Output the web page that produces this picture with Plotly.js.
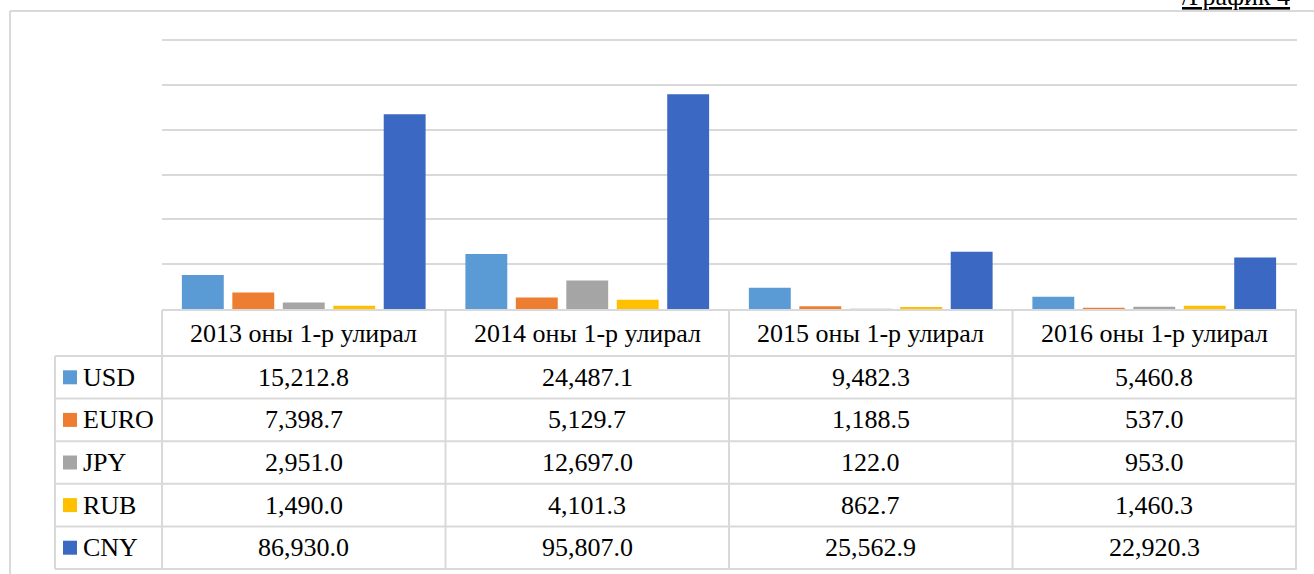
<!DOCTYPE html>
<html>
<head>
<meta charset="utf-8">
<script src="https://cdn.plot.ly/plotly-3.0.1.min.js"></script>
<style>html,body{margin:0;padding:0;background:#fff;}#chart{width:1314px;height:574px;}</style>
</head>
<body>
<div id="chart"></div>
<script>
const categories = ['2013 оны 1-р улирал', '2014 оны 1-р улирал', '2015 оны 1-р улирал', '2016 оны 1-р улирал'];
const seriesNames = ['USD', 'EURO', 'JPY', 'RUB', 'CNY'];
const usd  = [15212.8, 24487.1, 9482.3, 5460.8];
const euro = [7398.7, 5129.7, 1188.5, 537.0];
const jpy  = [2951.0, 12697.0, 122.0, 953.0];
const rub  = [1490.0, 4101.3, 862.7, 1460.3];
const cny  = [86930.0, 95807.0, 25562.9, 22920.3];
const seriesColors = ['#5b9bd5', '#ed7d31', '#a5a5a5', '#ffc000', '#3a68c2'];
const allSeries = [usd, euro, jpy, rub, cny];

const W = 1314, H = 574;
const px = v => v / W;
const py = v => 1 - v / H;
const fmt = v => v.toLocaleString('en-US', {minimumFractionDigits: 1, maximumFractionDigits: 1});
const FONT = 'Liberation Serif, Times New Roman, serif';
const GRID = '#d9d9d9';

const traces = allSeries.map((vals, i) => ({
  type: 'bar',
  name: seriesNames[i],
  x: categories,
  y: vals,
  marker: {color: seriesColors[i], line: {width: 0}},
  showlegend: false
}));

// table geometry (pixels)
const headerTop = 310, headerBottom = 356, tableBottom = 569;
const rowH = (tableBottom - headerBottom) / seriesNames.length;
const tableLeft = 55, firstColRight = 162, tableRight = 1297;

const shapes = [];
const annotations = [];
const line = {color: GRID, width: 2};

// outer frame
shapes.push({type: 'line', xref: 'paper', yref: 'paper', x0: px(10), x1: 1, y0: py(11), y1: py(11), line: line});
shapes.push({type: 'line', xref: 'paper', yref: 'paper', x0: px(10), x1: px(10), y0: py(11), y1: 0, line: line});

// table horizontal lines
shapes.push({type: 'line', xref: 'paper', yref: 'paper', x0: px(firstColRight), x1: px(tableRight), y0: py(headerTop), y1: py(headerTop), line: line});
for (let r = 0; r <= seriesNames.length; r++) {
  const yy = headerBottom + r * rowH;
  shapes.push({type: 'line', xref: 'paper', yref: 'paper', x0: px(tableLeft), x1: px(tableRight), y0: py(yy), y1: py(yy), line: line});
}
// table vertical lines
shapes.push({type: 'line', xref: 'paper', yref: 'paper', x0: px(tableLeft), x1: px(tableLeft), y0: py(headerBottom), y1: py(tableBottom), line: line});
shapes.push({type: 'line', xref: 'paper', yref: 'paper', x0: px(firstColRight), x1: px(firstColRight), y0: py(headerTop), y1: py(tableBottom), line: line});
categories.forEach((c, j) => {
  shapes.push({type: 'line', xref: 'x', yref: 'paper', x0: j + 0.5, x1: j + 0.5, y0: py(headerTop), y1: py(tableBottom), line: line});
});

// header texts
categories.forEach(c => {
  annotations.push({xref: 'x', yref: 'paper', x: c, y: py((headerTop + headerBottom) / 2), yanchor: 'middle', xanchor: 'center',
    showarrow: false, text: c, font: {family: FONT, size: 26, color: '#000'}});
});
// rows
seriesNames.forEach((n, i) => {
  const yc = headerBottom + (i + 0.5) * rowH;
  shapes.push({type: 'rect', xref: 'paper', yref: 'paper', x0: px(63), x1: px(77), y0: py(yc - 7), y1: py(yc + 7),
    fillcolor: seriesColors[i], line: {width: 0}});
  annotations.push({xref: 'paper', yref: 'paper', x: px(81), y: py(yc), xanchor: 'left', yanchor: 'middle',
    showarrow: false, text: n, font: {family: FONT, size: 26, color: '#000'}});
  categories.forEach((c, j) => {
    annotations.push({xref: 'x', yref: 'paper', x: c, y: py(yc), xanchor: 'center', yanchor: 'middle',
      showarrow: false, text: fmt(allSeries[i][j]), font: {family: FONT, size: 26, color: '#000'}});
  });
});

annotations.push({xref: 'paper', yref: 'paper', x: px(1180), y: py(13), xanchor: 'left', yanchor: 'bottom', showarrow: false,
  text: '<span style="text-decoration:underline">/График 4</span>',
  font: {family: FONT, size: 26, color: '#000'}});

const layout = {
  width: W, height: H,
  margin: {l: 0, r: 0, t: 0, b: 0},
  paper_bgcolor: '#fff',
  plot_bgcolor: '#fff',
  barmode: 'group',
  bargap: 0.11,
  bargroupgap: 0.17,
  showlegend: false,
  xaxis: {domain: [px(firstColRight), px(tableRight)], showticklabels: false, showgrid: false, zeroline: false, showline: false, ticks: ''},
  yaxis: {domain: [py(309), py(36)], range: [0, 121785], dtick: 20000, showticklabels: false,
          showgrid: true, gridcolor: GRID, gridwidth: 2, zeroline: false, showline: false, ticks: ''},
  shapes: shapes,
  annotations: annotations
};

Plotly.newPlot('chart', traces, layout, {displayModeBar: false, staticPlot: true});
</script>
</body>
</html>
